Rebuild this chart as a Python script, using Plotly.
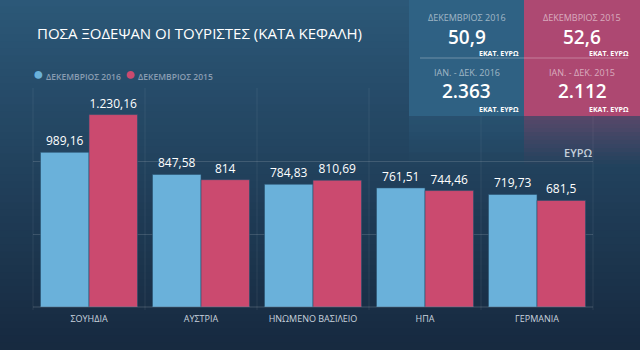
import plotly.graph_objects as go

categories = ["ΣΟΥΗΔΙΑ", "ΑΥΣΤΡΙΑ", "ΗΝΩΜΕΝΟ ΒΑΣΙΛΕΙΟ", "ΗΠΑ", "ΓΕΡΜΑΝΙΑ"]
dec_2016 = [989.16, 847.58, 784.83, 761.51, 719.73]
dec_2015 = [1230.16, 814, 810.69, 744.46, 681.5]
series_names = ["ΔΕΚΕΜΒΡΙΟΣ 2016", "ΔΕΚΕΜΒΡΙΟΣ 2015"]

panel_month_labels = ["ΔΕΚΕΜΒΡΙΟΣ 2016", "ΔΕΚΕΜΒΡΙΟΣ 2015"]
panel_month_values = ["50,9", "52,6"]
panel_year_labels = ["ΙΑΝ. - ΔΕΚ. 2016", "ΙΑΝ. - ΔΕΚ. 2015"]
panel_year_values = ["2.363", "2.112"]
panel_unit = "ΕΚΑΤ. ΕΥΡΩ"

title_text = "ΠΟΣΑ ΞΟΔΕΨΑΝ ΟΙ ΤΟΥΡΙΣΤΕΣ (ΚΑΤΑ ΚΕΦΑΛΗ)"
unit_text = "ΕΥΡΩ"

BLUE = "#6AB1DA"
RED = "#CB4A6F"
FONT = "Open Sans"

W, H = 640, 350
L, R, T, B = 33, 47, 88, 43
PW, PH = W - L - R, H - T - B


def px(x):
    return (x - L) / PW


def py(y):
    return (H - B - y) / PH


def fmt(v):
    s = f"{v:,.2f}".rstrip("0").rstrip(".")
    return s.replace(",", "X").replace(".", ",").replace("X", ".")


fig = go.Figure()
for name, vals, col in [(series_names[0], dec_2016, BLUE), (series_names[1], dec_2015, RED)]:
    fig.add_trace(go.Bar(
        x=categories, y=vals, name=name,
        marker=dict(color=col, line=dict(width=1, color="rgba(40,80,110,0.6)")),
        text=[fmt(v) for v in vals], textposition="outside", cliponaxis=False,
        textfont=dict(color="white", size=12, family=FONT, weight=500), showlegend=False,
    ))

shapes = []
# background gradient
top = (44, 88, 120)
bot = (23, 42, 64)
n = 50
for i in range(n):
    t = i / (n - 1)
    c = tuple(int(top[k] + (bot[k] - top[k]) * t) for k in range(3))
    shapes.append(dict(type="rect", xref="paper", yref="paper", x0=px(0), x1=px(W),
                       y0=py(H * (i + 1) / n + 0.5), y1=py(H * i / n - 0.5),
                       fillcolor=f"rgb{c}", line=dict(width=0), layer="below"))
# vertical grid lines at category boundaries
for k in range(6):
    shapes.append(dict(type="line", xref="paper", yref="paper", x0=k / 5, x1=k / 5,
                       y0=py(310), y1=1, line=dict(color="rgba(255,255,255,0.07)", width=1), layer="below"))
# baseline
shapes.append(dict(type="line", xref="paper", yref="paper", x0=0, x1=1, y0=0, y1=0,
                   line=dict(color="rgba(255,255,255,0.18)", width=1)))
# panels
panel_cols = ["rgba(48,98,132,0.97)", "rgba(178,72,114,0.97)"]
shadow_cols = [(48, 98, 132), (178, 72, 114)]
panel_x = [(409, 524), (524, 640)]
for (x0, x1), c, sc in zip(panel_x, panel_cols, shadow_cols):
    shapes.append(dict(type="rect", xref="paper", yref="paper", x0=px(x0), x1=px(x1),
                       y0=py(116), y1=py(0), fillcolor=c, line=dict(width=0)))
    m = 12
    for i in range(m):
        a = 0.35 * (1 - i / m)
        shapes.append(dict(type="rect", xref="paper", yref="paper", x0=px(x0), x1=px(x1),
                           y0=py(116 + 4 * (i + 1)), y1=py(116 + 4 * i),
                           fillcolor=f"rgba({sc[0]},{sc[1]},{sc[2]},{a:.3f})", line=dict(width=0)))
shapes.append(dict(type="line", xref="paper", yref="paper", x0=px(420), x1=px(628), y0=py(58), y1=py(58),
                   line=dict(color="rgba(255,255,255,0.3)", width=1)))

ann = []
ann.append(dict(text=title_text, x=px(35), y=py(33), xref="paper", yref="paper", xanchor="left", yanchor="middle",
                showarrow=False, font=dict(family=FONT, size=15, color="white", weight=500)))
ann.append(dict(text=unit_text, x=px(594), y=py(152), xref="paper", yref="paper", xanchor="right", yanchor="middle",
                showarrow=False, font=dict(family=FONT, size=11, color="#C3CFDA", weight=600)))
# legend entries
legend_x = [31, 123]
for name, col, lx in zip(series_names, [BLUE, RED], legend_x):
    ann.append(dict(text=f"<span style='color:{col};font-size:18px'>●</span> {name}",
                    x=px(lx), y=py(73), xref="paper", yref="paper", xanchor="left", yanchor="middle",
                    showarrow=False, font=dict(family=FONT, size=8.5, color="#8A9DB2", weight=600)))
centers = [466.5, 582]
rights = [521, 631]
for i in range(2):
    ann.append(dict(text=panel_month_labels[i], x=px(centers[i]), y=py(18), xref="paper", yref="paper",
                    xanchor="center", yanchor="middle", showarrow=False,
                    font=dict(family=FONT, size=9, color="rgba(255,255,255,0.55)")))
    ann.append(dict(text=panel_month_values[i], x=px(centers[i]), y=py(37), xref="paper", yref="paper",
                    xanchor="center", yanchor="middle", showarrow=False,
                    font=dict(family=FONT, size=19, color="white", weight=600)))
    ann.append(dict(text="<b>" + panel_unit + "</b>", x=px(rights[i]), y=py(54), xref="paper", yref="paper",
                    xanchor="right", yanchor="middle", showarrow=False,
                    font=dict(family=FONT, size=7, color="white")))
    ann.append(dict(text=panel_year_labels[i], x=px(centers[i]), y=py(72), xref="paper", yref="paper",
                    xanchor="center", yanchor="middle", showarrow=False,
                    font=dict(family=FONT, size=9, color="rgba(255,255,255,0.55)")))
    ann.append(dict(text=panel_year_values[i], x=px(centers[i]), y=py(91), xref="paper", yref="paper",
                    xanchor="center", yanchor="middle", showarrow=False,
                    font=dict(family=FONT, size=19, color="white", weight=600)))
    ann.append(dict(text="<b>" + panel_unit + "</b>", x=px(rights[i]), y=py(109), xref="paper", yref="paper",
                    xanchor="right", yanchor="middle", showarrow=False,
                    font=dict(family=FONT, size=7, color="white")))

fig.update_layout(
    width=W, height=H, margin=dict(l=L, r=R, t=T, b=B, pad=0),
    paper_bgcolor="#1F3B55", plot_bgcolor="rgba(0,0,0,0)",
    barmode="group", bargap=0.134, bargroupgap=0,
    shapes=shapes, annotations=ann, showlegend=False,
    xaxis=dict(showgrid=False, zeroline=False, showline=False, ticks="", ticklabelstandoff=5,
               tickfont=dict(family=FONT, size=9, color="#C8D3DE")),
    yaxis=dict(range=[0, 1400], tickvals=[1400 / 3, 2800 / 3, 1400], showticklabels=False,
               gridcolor="rgba(255,255,255,0.14)", gridwidth=1, zeroline=False, showline=False),
)
fig.write_html("out.html")
